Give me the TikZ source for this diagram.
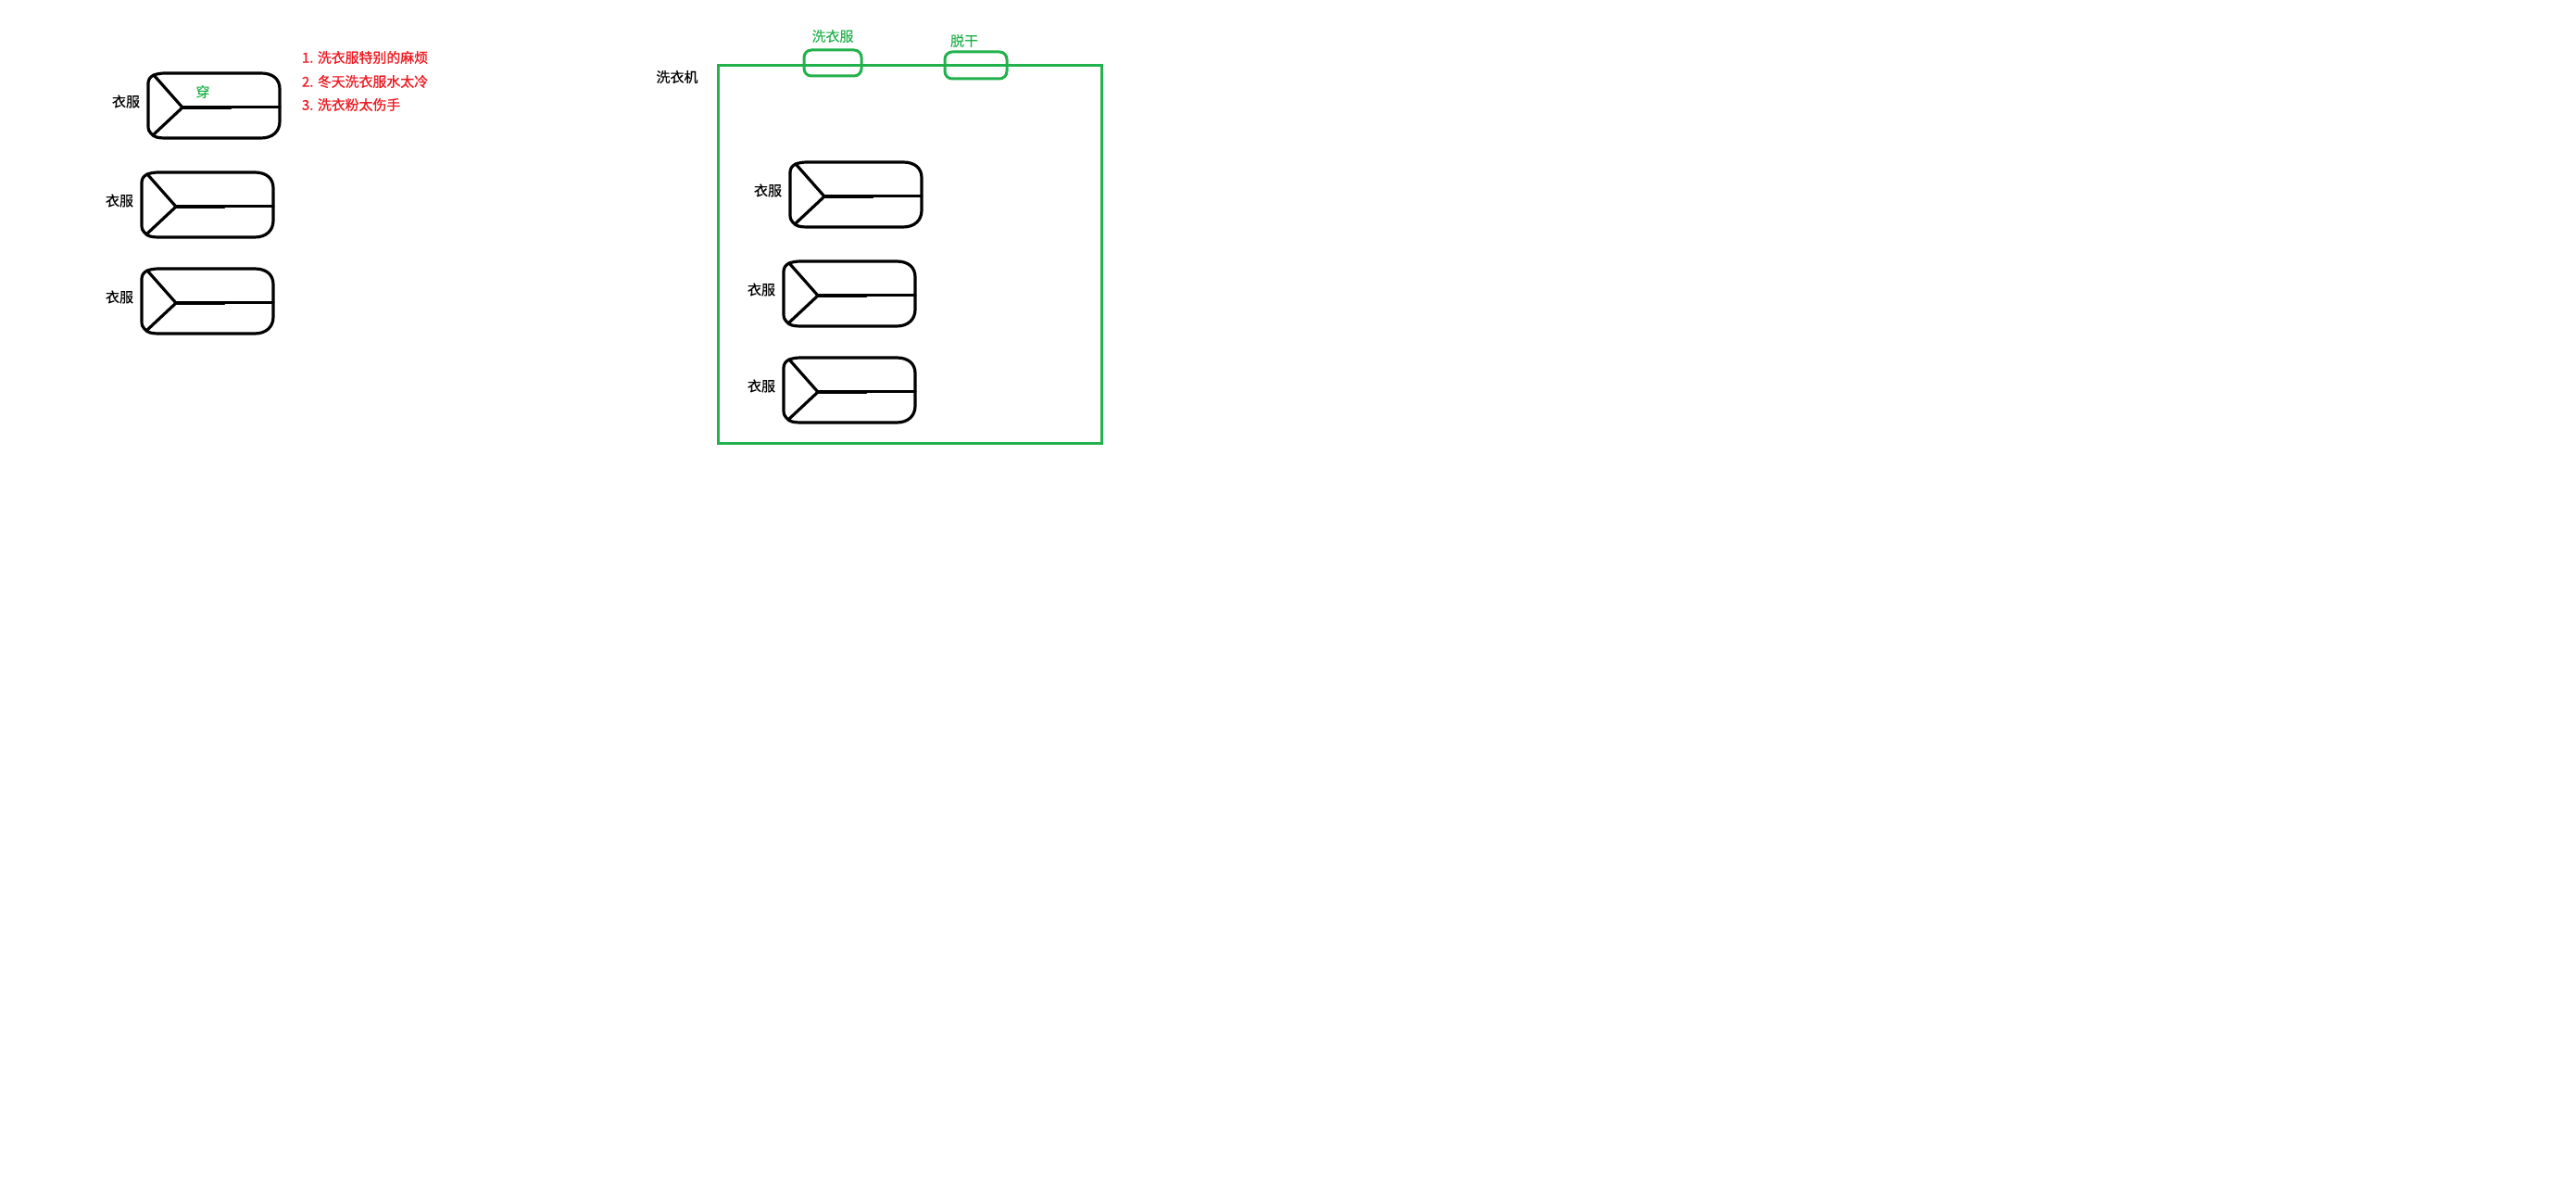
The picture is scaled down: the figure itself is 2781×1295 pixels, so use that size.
\documentclass[tikz,border=0pt]{standalone}
\usepackage{fontspec}
\setmainfont{Noto Sans CJK SC}
\newfontfamily\semifont[FakeBold=0.6]{Noto Sans CJK SC}
\newfontfamily\redfont[FakeBold=1.2]{Noto Sans CJK SC}
\newfontfamily\lightfont[FakeBold=0.25]{Noto Sans CJK SC}
\definecolor{pgreen}{HTML}{22B14C}
\definecolor{pred}{HTML}{ED1C24}
\tikzset{
  x=1pt,y=-1pt,
  every node/.style={font=\fontsize{15pt}{18pt}\selectfont, inner sep=0pt, outer sep=0pt},
  inkline/.style={draw=black, line width=3.2pt, line join=round, line cap=round},
  greenline/.style={draw=pgreen, line width=3pt},
  blacktext/.style={text=black, font=\fontsize{15pt}{18pt}\selectfont\semifont},
  redtext/.style={text=pred, anchor=west, font=\fontsize{14.9pt}{18pt}\selectfont\redfont},
  greentext/.style={text=pgreen, font=\fontsize{15pt}{18pt}\selectfont\lightfont},
  shirt/.pic={
    \draw[inkline] (18,0) -- (122,0) .. controls (134,0) and (142,6) .. (142,17)
      -- (142,52) .. controls (142,63) and (134,70) .. (122,70)
      -- (18,70) .. controls (11,70) and (6,69) .. (3,65)
      .. controls (1,63) and (0,61) .. (0,57)
      -- (0,11) .. controls (0,7) and (2,4) .. (6,2) .. controls (9,1) and (13,0) .. (18,0) -- cycle;
    \coordinate (-tl) at (6,2);
    \coordinate (-bl) at (6,66);
    \coordinate (-j) at (37,37);
    \coordinate (-m) at (89,37);
    \coordinate (-r) at (142,36.4);
    \draw[inkline] (-tl) -- (-j) -- (-bl);
    \draw[inkline] (-j) -- (-m);
    \draw[inkline] (89,36.4) -- (-r);
    \node[blacktext] (-label) at (-24,30.5) {衣服};
  }
}
\begin{document}
\begin{tikzpicture}
\useasboundingbox (0,0) rectangle (2781,1295);
\pic (a) at (160,79) {shirt};
\pic (b) at (153,186) {shirt};
\pic (c) at (153,290) {shirt};
\node[greentext] (wear) at (219,99) {穿};
\node[redtext] (r1) at (326,62) {1. 洗衣服特别的麻烦};
\node[redtext] (r2) at (326,88) {2. 冬天洗衣服水太冷};
\node[redtext] (r3) at (326,113) {3. 洗衣粉太伤手};
\node[blacktext] (washerlabel) at (731,83) {洗衣机};
\node[greenline, anchor=north west, minimum width=414pt, minimum height=407pt] (washer) at (775,71) {};
\node[greenline, rounded corners=8pt, anchor=north west, minimum width=62pt, minimum height=28pt] (washbtn) at (868,54) {};
\node[greenline, rounded corners=8pt, anchor=north west, minimum width=67pt, minimum height=29pt] (drybtn) at (1020,56) {};
\node[greentext] (washtext) at (899,39) {洗衣服};
\node[greentext] (drytext) at (1041,44) {脱干};
\pic (d) at (853,175) {shirt};
\pic (e) at (846,282) {shirt};
\pic (f) at (846,386) {shirt};
\end{tikzpicture}
\end{document}
